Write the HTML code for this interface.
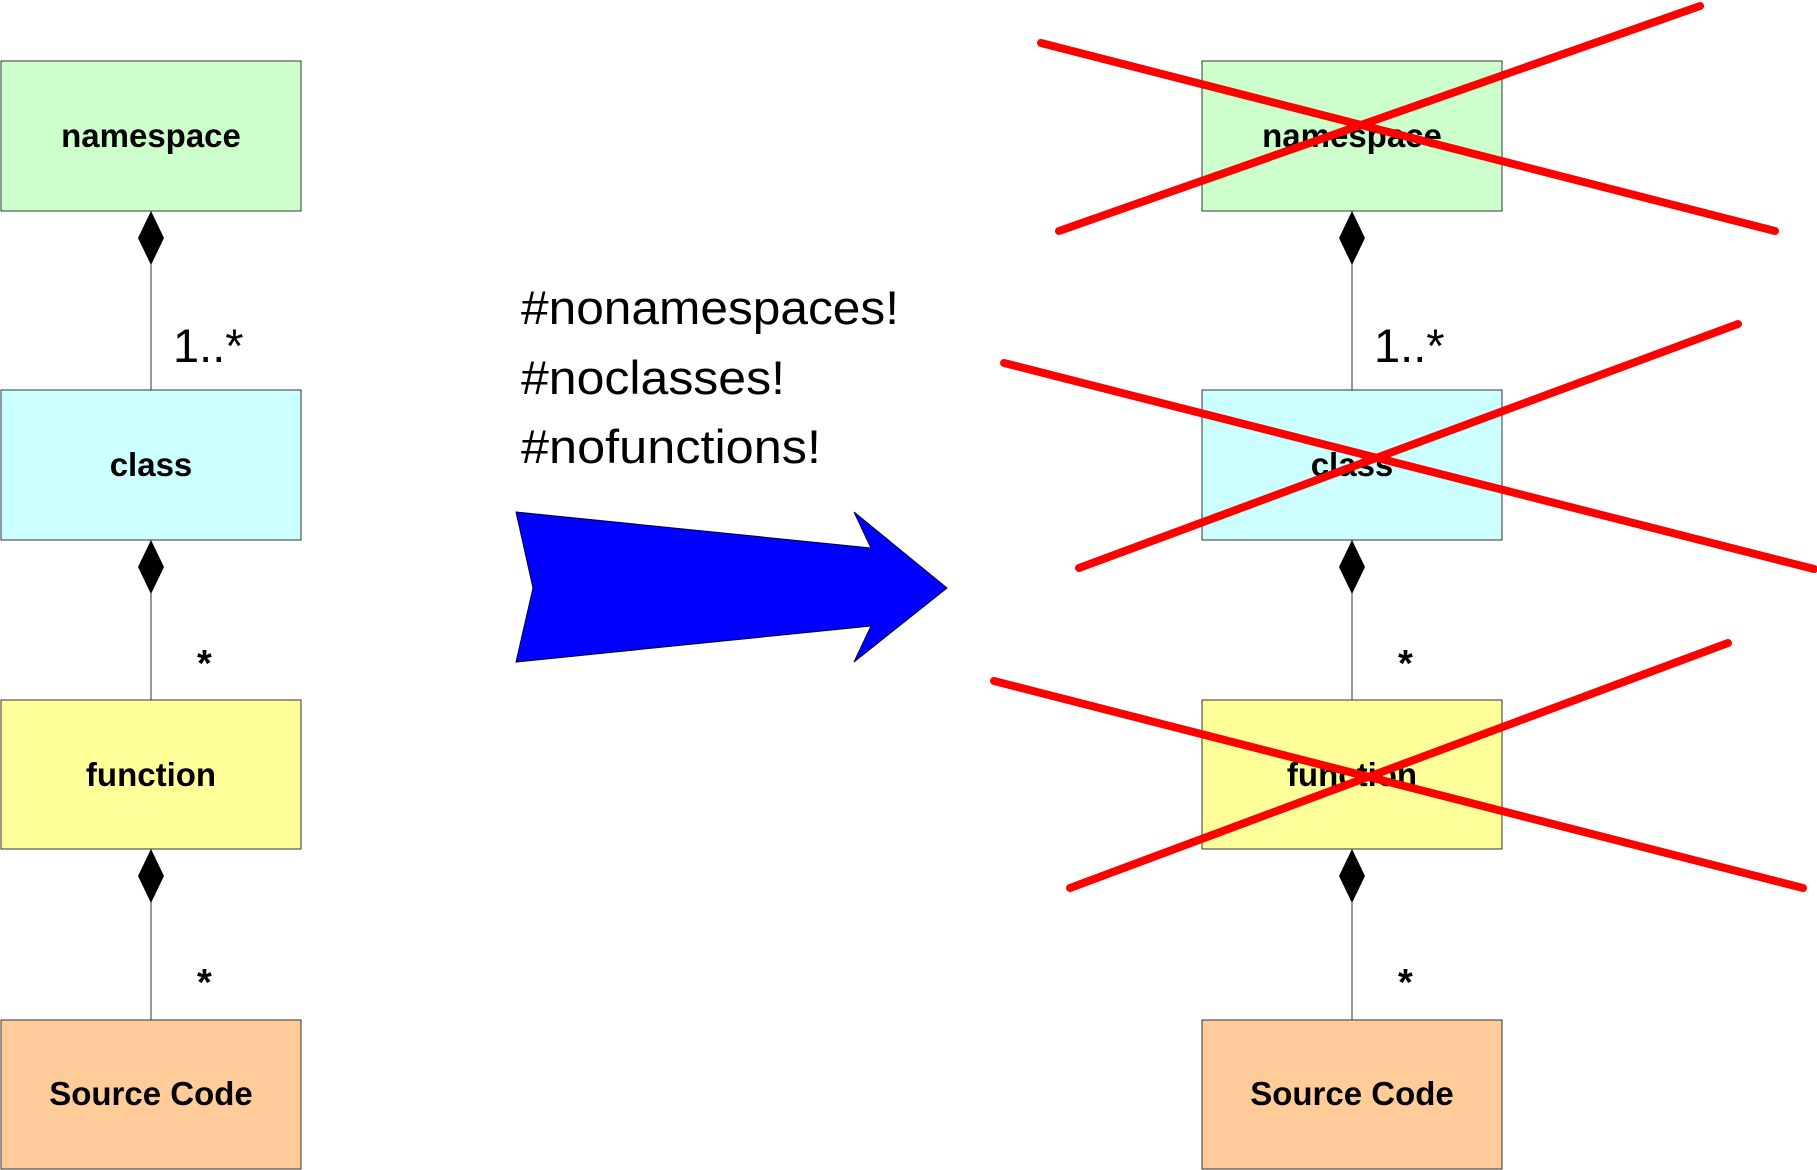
<!DOCTYPE html>
<html><head><meta charset="utf-8"><style>
html,body{margin:0;padding:0;background:#fff;}
svg{display:block;}
</style></head><body>
<svg width="1817" height="1170" viewBox="0 0 1817 1170" xmlns="http://www.w3.org/2000/svg" font-family="Liberation Sans, sans-serif">
<g stroke="#333" stroke-width="1">
  <rect x="1" y="61" width="300" height="150" fill="#ccffcc"/>
  <rect x="1" y="390" width="300" height="150" fill="#ccffff"/>
  <rect x="1" y="700" width="300" height="149" fill="#ffff99"/>
  <rect x="1" y="1020" width="300" height="149" fill="#ffcc99"/>
  <line x1="151" y1="211" x2="151" y2="390"/>
  <line x1="151" y1="540" x2="151" y2="700"/>
  <line x1="151" y1="849" x2="151" y2="1020"/>
</g>
<g fill="#000">
  <polygon points="151,211 164,238 151,265 138,238"/>
  <polygon points="151,540 164,567 151,594 138,567"/>
  <polygon points="151,849 164,876 151,903 138,876"/>
</g>
<g font-weight="bold" font-size="33" text-anchor="middle" fill="#000">
  <text x="151" y="147">namespace</text>
  <text x="151" y="476">class</text>
  <text x="151" y="786">function</text>
  <text x="151" y="1105">Source Code</text>
</g>
<g font-size="47" fill="#000">
  <text x="173" y="362">1..*</text>
  <text x="197" y="676" font-size="38" font-weight="bold">*</text>
  <text x="197" y="995" font-size="38" font-weight="bold">*</text>
</g>

<g stroke="#333" stroke-width="1">
  <rect x="1202" y="61" width="300" height="150" fill="#ccffcc"/>
  <rect x="1202" y="390" width="300" height="150" fill="#ccffff"/>
  <rect x="1202" y="700" width="300" height="149" fill="#ffff99"/>
  <rect x="1202" y="1020" width="300" height="149" fill="#ffcc99"/>
  <line x1="1352" y1="211" x2="1352" y2="390"/>
  <line x1="1352" y1="540" x2="1352" y2="700"/>
  <line x1="1352" y1="849" x2="1352" y2="1020"/>
</g>
<g fill="#000">
  <polygon points="1352,211 1365,238 1352,265 1339,238"/>
  <polygon points="1352,540 1365,567 1352,594 1339,567"/>
  <polygon points="1352,849 1365,876 1352,903 1339,876"/>
</g>
<g font-weight="bold" font-size="33" text-anchor="middle" fill="#000">
  <text x="1352" y="147">namespace</text>
  <text x="1352" y="476">class</text>
  <text x="1352" y="786">function</text>
  <text x="1352" y="1105">Source Code</text>
</g>
<g font-size="47" fill="#000">
  <text x="1374" y="362">1..*</text>
  <text x="1398" y="676" font-size="38" font-weight="bold">*</text>
  <text x="1398" y="995" font-size="38" font-weight="bold">*</text>
</g>

<g font-size="47" fill="#000">
  <text x="521" y="324" textLength="378" lengthAdjust="spacingAndGlyphs">#nonamespaces!</text>
  <text x="521" y="394" textLength="264" lengthAdjust="spacingAndGlyphs">#noclasses!</text>
  <text x="521" y="463" textLength="300" lengthAdjust="spacingAndGlyphs">#nofunctions!</text>
</g>
<polygon points="516,512 871,548 854,512 947,588 854,662 871,626 516,662 533,588" fill="#0000ff" stroke="#000033" stroke-width="1"/>

<g stroke="#ff0000" stroke-width="8" stroke-linecap="round">
  <line x1="1041" y1="43" x2="1775" y2="231"/>
  <line x1="1059" y1="231" x2="1700" y2="6"/>
  <line x1="1004" y1="363" x2="1814" y2="569"/>
  <line x1="1079" y1="568" x2="1738" y2="324"/>
  <line x1="994" y1="681" x2="1803" y2="888"/>
  <line x1="1070" y1="888" x2="1728" y2="643"/>
</g>
</svg>
</body></html>
